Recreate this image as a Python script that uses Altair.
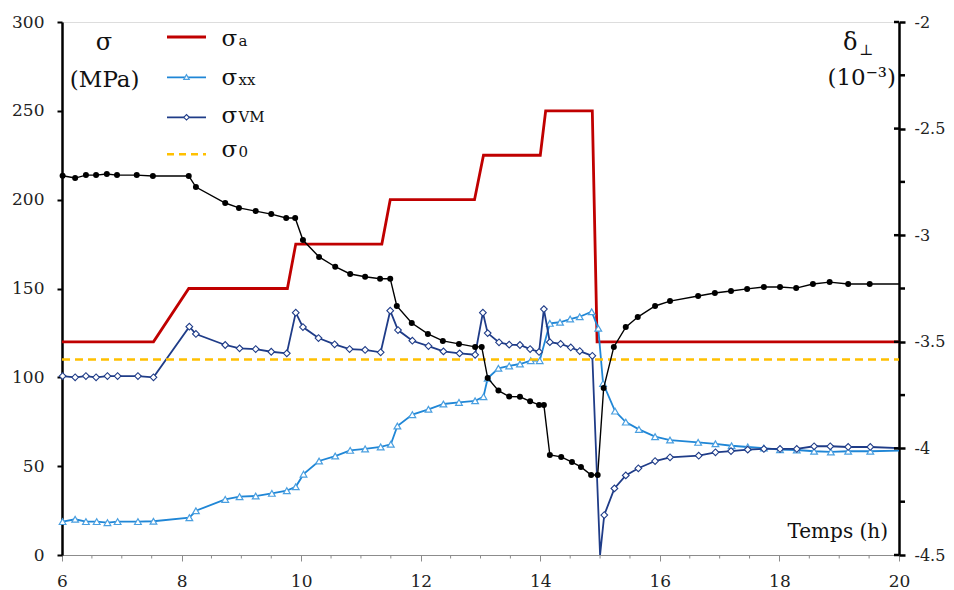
import altair as alt
import pandas as pd

FONT = "DejaVu Serif"

# ---------------- data (time in hours) ----------------
# applied stress sigma_a (MPa)
sa_t = [6.0, 7.53, 8.12, 9.77, 9.91, 11.35, 11.49, 12.90, 13.05, 14.00, 14.09, 14.87, 14.95, 20.0]
sa_v = [120, 120, 150, 150, 175, 175, 200, 200, 225, 225, 250, 250, 120, 120]

# yield stress sigma_0 (MPa)
s0_t = [6.0, 20.0]
s0_v = [110, 110]

# sigma_xx (MPa)
xx_t = [6.01, 6.22, 6.40, 6.58, 6.76, 6.93, 7.27, 7.53, 8.13, 8.24, 8.73, 8.97, 9.24, 9.51, 9.76,
        9.91, 10.04, 10.30, 10.57, 10.82, 11.07, 11.33, 11.50, 11.61, 11.86, 12.13, 12.38, 12.64, 12.91,
        13.05, 13.12, 13.30, 13.48, 13.66, 13.84, 13.99, 14.16, 14.33, 14.50, 14.66, 14.86, 14.97,
        15.05, 15.25, 15.43, 15.65, 15.92, 16.17, 16.64, 16.93, 17.20, 17.47, 17.74, 18.01, 18.29,
        18.58, 18.86, 19.15, 19.52]
xx_v = [18.8, 20.1, 18.8, 18.8, 18.2, 18.8, 18.8, 19.0, 21.0, 24.9, 31.3, 32.8, 33.2, 34.7, 36.2,
        38.4, 45.5, 52.9, 55.7, 58.9, 59.7, 60.8, 62.3, 72.6, 79.0, 82.0, 85.0, 85.9, 86.8,
        89.1, 99.5, 105.1, 106.4, 107.5, 109.4, 109.4, 130.4, 131.0, 132.8, 134.1, 136.9, 127.6,
        96.6, 81.0, 74.8, 70.7, 66.6, 64.7, 63.4, 62.6, 61.5, 60.8, 60.2, 59.3, 59.1,
        58.4, 58.0, 58.4, 58.4]
xx_end_t = [20.0]
xx_end_v = [58.7]

# sigma_VM (MPa)
vm_t = [6.01, 6.22, 6.40, 6.57, 6.76, 6.93, 7.27, 7.53, 8.13, 8.24, 8.73, 8.97, 9.24, 9.50, 9.76,
        9.91, 10.03, 10.29, 10.56, 10.81, 11.07, 11.33, 11.49, 11.62, 11.86, 12.13, 12.38, 12.65, 12.91,
        13.04, 13.12, 13.31, 13.48, 13.66, 13.83, 13.98, 14.06, 14.16, 14.34, 14.51, 14.66, 14.87,
        15.07, 15.24, 15.43, 15.64, 15.92, 16.17, 16.65, 16.93, 17.19, 17.47, 17.74, 18.01, 18.29,
        18.58, 18.85, 19.15, 19.52]
vm_v = [100.7, 100.0, 100.7, 100.0, 100.7, 100.7, 100.7, 100.0, 128.5, 124.4, 118.2, 116.3, 115.9, 114.4, 113.5,
        136.4, 128.3, 122.1, 118.6, 115.9, 115.4, 114.1, 137.5, 126.6, 120.6, 117.6, 114.6, 113.5, 112.7,
        136.4, 124.9, 119.7, 118.4, 118.2, 115.9, 114.3, 138.4, 119.8, 118.8, 116.8, 114.8, 112.1,
        22.5, 37.5, 44.8, 48.8, 52.9, 55.0, 55.9, 57.8, 58.5, 59.3, 59.7, 59.7, 59.7,
        61.2, 61.2, 60.8, 60.8]
vm_nomark_t = [15.00, 20.0]
vm_nomark_v = [0.0, 60.2]

# delta_perp (1e-3), right axis
d_t = [6.01, 6.22, 6.40, 6.57, 6.75, 6.92, 7.25, 7.52, 8.12, 8.24, 8.73, 8.96, 9.24, 9.50, 9.75, 9.90,
       10.03, 10.30, 10.57, 10.82, 11.07, 11.32, 11.49, 11.60, 11.85, 12.12, 12.37, 12.64, 12.91, 13.02,
       13.12, 13.30, 13.48, 13.66, 13.83, 13.98, 14.06, 14.16, 14.35, 14.53, 14.68, 14.85, 14.96,
       15.06, 15.23, 15.43, 15.63, 15.92, 16.17, 16.64, 16.92, 17.19, 17.46, 17.74, 18.01, 18.28,
       18.56, 18.84, 19.15, 19.51]
d_v = [-2.721, -2.732, -2.718, -2.718, -2.713, -2.718, -2.718, -2.722, -2.722, -2.774, -2.849, -2.872, -2.887, -2.901, -2.919, -2.919,
       -3.023, -3.102, -3.148, -3.182, -3.195, -3.204, -3.204, -3.332, -3.412, -3.463, -3.496, -3.510, -3.524, -3.524,
       -3.670, -3.729, -3.757, -3.758, -3.779, -3.796, -3.796, -4.031, -4.040, -4.064, -4.087, -4.125, -4.125,
       -3.717, -3.524, -3.431, -3.384, -3.332, -3.309, -3.285, -3.271, -3.262, -3.252, -3.243, -3.243, -3.248,
       -3.229, -3.220, -3.229, -3.229]
d_end_t = [20.0]
d_end_v = [-3.229]

# axes
x_major = [6, 8, 10, 12, 14, 16, 18, 20]
x_minor = [6.5, 7, 7.5, 8.5, 9, 9.5, 10.5, 11, 11.5, 12.5, 13, 13.5, 14.5, 15, 15.5,
           16.5, 17, 17.5, 18.5, 19, 19.5]
left_ticks = [0, 50, 100, 150, 200, 250, 300]
right_major = [-4.5, -4, -3.5, -3, -2.5, -2]
right_minor = [-4.25, -3.75, -3.25, -2.75, -2.25]

# ---------------- colours ----------------
RED = "#C00000"
BLUE = "#1F86D6"
BLUE_MK = "#4A9FE0"
NAVY = "#1F3C88"
GOLD = "#FFC000"
GRAY = "#8c8c8c"

# ---------------- frames ----------------
df_sa = pd.DataFrame({"t": sa_t, "v": sa_v})
df_s0 = pd.DataFrame({"t": s0_t, "v": s0_v})
df_xx_pts = pd.DataFrame({"t": xx_t, "v": xx_v})
df_xx_line = pd.concat([df_xx_pts, pd.DataFrame({"t": xx_end_t, "v": xx_end_v})]).sort_values("t")
df_vm_pts = pd.DataFrame({"t": vm_t, "v": vm_v})
df_vm_line = pd.concat([df_vm_pts, pd.DataFrame({"t": vm_nomark_t, "v": vm_nomark_v})]).sort_values("t")
df_d_pts = pd.DataFrame({"t": d_t, "d": d_v})
df_d_line = pd.concat([df_d_pts, pd.DataFrame({"t": d_end_t, "d": d_end_v})]).sort_values("t")
df_xminor = pd.DataFrame({"t": x_minor})
df_rmajor = pd.DataFrame({"d": right_major})
df_rminor = pd.DataFrame({"d": right_minor})
one = pd.DataFrame({"k": [0]})

X = alt.X("t:Q",
          scale=alt.Scale(domain=[6, 20], nice=False, zero=False),
          axis=alt.Axis(values=x_major, title=None, grid=False, domainColor=GRAY, domainWidth=1,
                        tickColor=GRAY, tickWidth=1, tickSize=6, labelFont=FONT, labelFontSize=17,
                        labelColor="#222", labelPadding=12, labelFlush=False, labelOverlap=False,
                        format="d"))
YL = alt.Y("v:Q",
           scale=alt.Scale(domain=[0, 300], nice=False),
           axis=alt.Axis(values=left_ticks, title=None, grid=False, domainColor="black", domainWidth=2.5,
                         tickColor="black", tickWidth=2, tickSize=5, labelFont=FONT, labelFontSize=17,
                         labelColor="#222", labelPadding=13, labelOverlap=False))
YR = alt.Y("d:Q",
           scale=alt.Scale(domain=[-4.5, -2], nice=False, zero=False),
           axis=alt.Axis(values=right_major, orient="right", title=None, grid=False, domainColor="black",
                         domainWidth=2.5, tickColor="black", tickWidth=2.5, tickSize=6, labelFont=FONT,
                         labelFontSize=16, labelColor="#222", labelPadding=9, labelOverlap=False,
                         labelExpr="'' + datum.value"))

# ---------------- left (sigma) layers ----------------
sa_line = alt.Chart(df_sa).mark_line(color=RED, strokeWidth=2.8).encode(x=X, y=YL, order="t:Q")
xx_line = alt.Chart(df_xx_line).mark_line(color=BLUE, strokeWidth=1.8).encode(x=X, y=YL, order="t:Q")
xx_pts = alt.Chart(df_xx_pts).mark_point(shape="triangle-up", filled=True, fill="white", stroke=BLUE_MK,
                                         strokeWidth=1.2, size=45, opacity=1).encode(x=X, y=YL)
vm_line = alt.Chart(df_vm_line).mark_line(color=NAVY, strokeWidth=1.8).encode(x=X, y=YL, order="t:Q")
vm_pts = alt.Chart(df_vm_pts).mark_point(shape="diamond", filled=True, fill="white", stroke=NAVY,
                                         strokeWidth=1.1, size=45, opacity=1).encode(x=X, y=YL)
s0_line = alt.Chart(df_s0).mark_line(color=GOLD, strokeWidth=2.5, strokeDash=[8, 5]).encode(x=X, y=YL)
x_minor_ticks = alt.Chart(df_xminor).mark_rule(color=GRAY, strokeWidth=1).encode(
    x=X, y=alt.value(533), y2=alt.value(536.5))

# legend (drawn by hand)
def leg_rule(y, color, width, dash=None):
    kw = dict(color=color, strokeWidth=width)
    if dash:
        kw["strokeDash"] = dash
    return alt.Chart(one).mark_rule(**kw).encode(x=alt.value(105), x2=alt.value(144), y=alt.value(y))

def txt(s, x, y, size, align="left", baseline="alphabetic", color="#111"):
    return alt.Chart(one).mark_text(text=s, font=FONT, fontSize=size, align=align, baseline=baseline,
                                    color=color).encode(x=alt.value(x), y=alt.value(y))

SX = 159.5   # legend sigma left edge
SUBX = 176.5  # legend subscript left edge
legend = [
    leg_rule(15, RED, 2.8),
    leg_rule(55.3, BLUE, 1.8),
    alt.Chart(one).mark_point(shape="triangle-up", filled=True, fill="white", stroke=BLUE_MK,
                              strokeWidth=1.2, size=30, opacity=1).encode(x=alt.value(124.5), y=alt.value(55)),
    leg_rule(95.3, NAVY, 1.8),
    alt.Chart(one).mark_point(shape="diamond", filled=True, fill="white", stroke=NAVY,
                              strokeWidth=1.1, size=30, opacity=1).encode(x=alt.value(124.5), y=alt.value(95.3)),
    leg_rule(132.3, GOLD, 2.5, [7, 5]),
    txt("σ", SX, 24, 23), txt("a", SUBX, 24, 15),
    txt("σ", SX, 63, 23), txt("xx", SUBX, 63, 15),
    txt("σ", SX, 101.3, 23), txt("VM", SUBX, 99.5, 15),
    txt("σ", SX, 134.7, 23), txt("0", SUBX, 134.7, 15),
    # axis titles
    txt("σ", 42, 28, 24, align="center"),
    txt("(MPa)", 42.7, 65.3, 23, align="center"),
    txt("δ", 781, 28, 24),
    txt("⊥", 797, 33, 15),
    txt("(10⁻³)", 834, 63, 23, align="right"),
    txt("Temps (h)", 826, 516.3, 20, align="right"),
]

left = alt.layer(sa_line, xx_line, xx_pts, vm_line, vm_pts, s0_line, x_minor_ticks, *legend)

# ---------------- right (delta) layers ----------------
d_line = alt.Chart(df_d_line).mark_line(color="black", strokeWidth=1.4).encode(x=X, y=YR, order="t:Q")
d_pts = alt.Chart(df_d_pts).mark_point(shape="circle", filled=True, color="black", size=36, opacity=1).encode(x=X, y=YR)
r_inner = alt.Chart(df_rmajor).mark_rule(color="black", strokeWidth=2.5).encode(
    y=YR, x=alt.value(832), x2=alt.value(837))
r_minor = alt.Chart(df_rminor).mark_rule(color="black", strokeWidth=2.5).encode(
    y=YR, x=alt.value(837), x2=alt.value(843))

right = alt.layer(d_line, d_pts, r_inner, r_minor)

chart = alt.layer(left, right).resolve_scale(y="independent").properties(
    width=837, height=533,
    autosize=alt.AutoSizeParams(type="none"),
    padding={"left": 54, "top": 14, "right": 46, "bottom": 36},
).configure_view(stroke=GRAY, strokeWidth=1).configure(background="white")

chart.save("out.html", embed_options={"renderer": "svg", "actions": False})
